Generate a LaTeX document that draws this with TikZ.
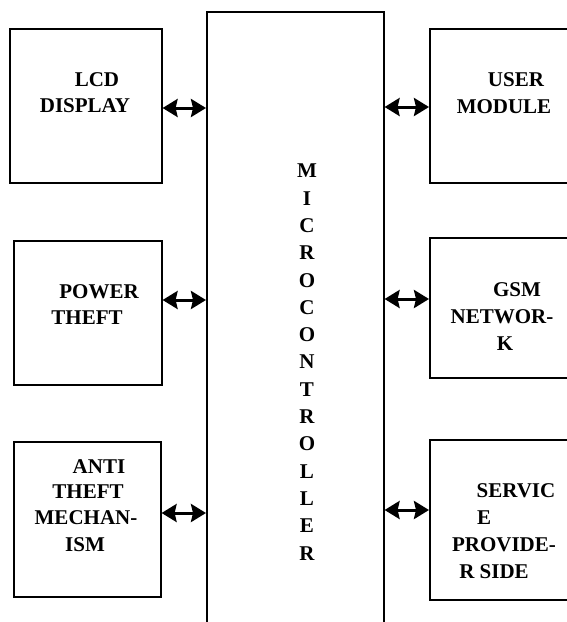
\documentclass[tikz,border=0pt]{standalone}
\usepackage{fontspec}
\setmainfont{Liberation Serif}
\usetikzlibrary{arrows.meta}
\begin{document}
\begin{tikzpicture}[x=1pt,y=1pt,
  blk/.style={draw, line width=1.6pt, inner sep=0pt, anchor=north west},
  lbl/.style={inner sep=0pt, font=\fontsize{21}{26}\selectfont\bfseries},
  biarrow/.style={line width=3pt, {Triangle[length=15pt,width=18pt,inset=2pt]}-{Triangle[length=15pt,width=18pt,inset=2pt]}}]
  \useasboundingbox (0,0) rectangle (567,-622);
  \clip (0,0) rectangle (567,-622);

  % central controller block (runs past the lower edge)
  \node[blk, minimum width=177, minimum height=640] (mc) at (206,-11) {};

  % peripheral blocks, left column
  \node[blk, minimum width=152, minimum height=154] (lcd) at (9,-28) {};
  \node[blk, minimum width=148, minimum height=144] (pow) at (13,-240) {};
  \node[blk, minimum width=147, minimum height=155] (anti) at (13,-441) {};

  % peripheral blocks, right column (open to the right)
  \node[blk, minimum width=160, minimum height=154] (user) at (429,-28) {};
  \node[blk, minimum width=160, minimum height=140] (gsm) at (429,-237) {};
  \node[blk, minimum width=160, minimum height=160] (serv) at (429,-439) {};

  % arrow heights
  \coordinate (ya) at (0,-108);
  \coordinate (yb) at (0,-300);
  \coordinate (yc) at (0,-513);
  \coordinate (yd) at (0,-107);
  \coordinate (ye) at (0,-299);
  \coordinate (yf) at (0,-510);

  \draw[biarrow] (lcd.east |- ya) -- (mc.west |- ya);
  \draw[biarrow] (pow.east |- yb) -- (mc.west |- yb);
  \draw[biarrow] (anti.east |- yc) -- (mc.west |- yc);
  \draw[biarrow] (mc.east |- yd) -- (user.west |- yd);
  \draw[biarrow] (mc.east |- ye) -- (gsm.west |- ye);
  \draw[biarrow] (mc.east |- yf) -- (serv.west |- yf);

  % block labels
  \node[lbl] (lcd1) at (97,-80) {LCD};
  \node[lbl] (lcd2) at (85,-106) {DISPLAY};
  \node[lbl] (pow1) at (99,-292) {POWER};
  \node[lbl] (pow2) at (87,-318) {THEFT};
  \node[lbl] (anti1) at (99,-467) {ANTI};
  \node[lbl] (anti2) at (88,-492) {THEFT};
  \node[lbl] (anti3) at (86,-518) {MECHAN-};
  \node[lbl] (anti4) at (85,-545) {ISM};
  \node[lbl] (user1) at (516,-80) {USER};
  \node[lbl] (user2) at (504,-107) {MODULE};
  \node[lbl] (gsm1) at (517,-290) {GSM};
  \node[lbl] (gsm2) at (502,-317) {NETWOR-};
  \node[lbl] (gsm3) at (505,-344) {K};
  \node[lbl] (serv1) at (516,-491) {SERVIC};
  \node[lbl] (serv2) at (484,-518) {E};
  \node[lbl] (serv3) at (504,-545) {PROVIDE-};
  \node[lbl] (serv4) at (494,-572) {R SIDE};

  % vertical controller label
  \foreach \ch [count=\i from 0] in {M,I,C,R,O,C,O,N,T,R,O,L,L,E,R}
    \node[lbl] (mcl\i) at (307,-171-27.3*\i) {\ch};
\end{tikzpicture}
\end{document}
